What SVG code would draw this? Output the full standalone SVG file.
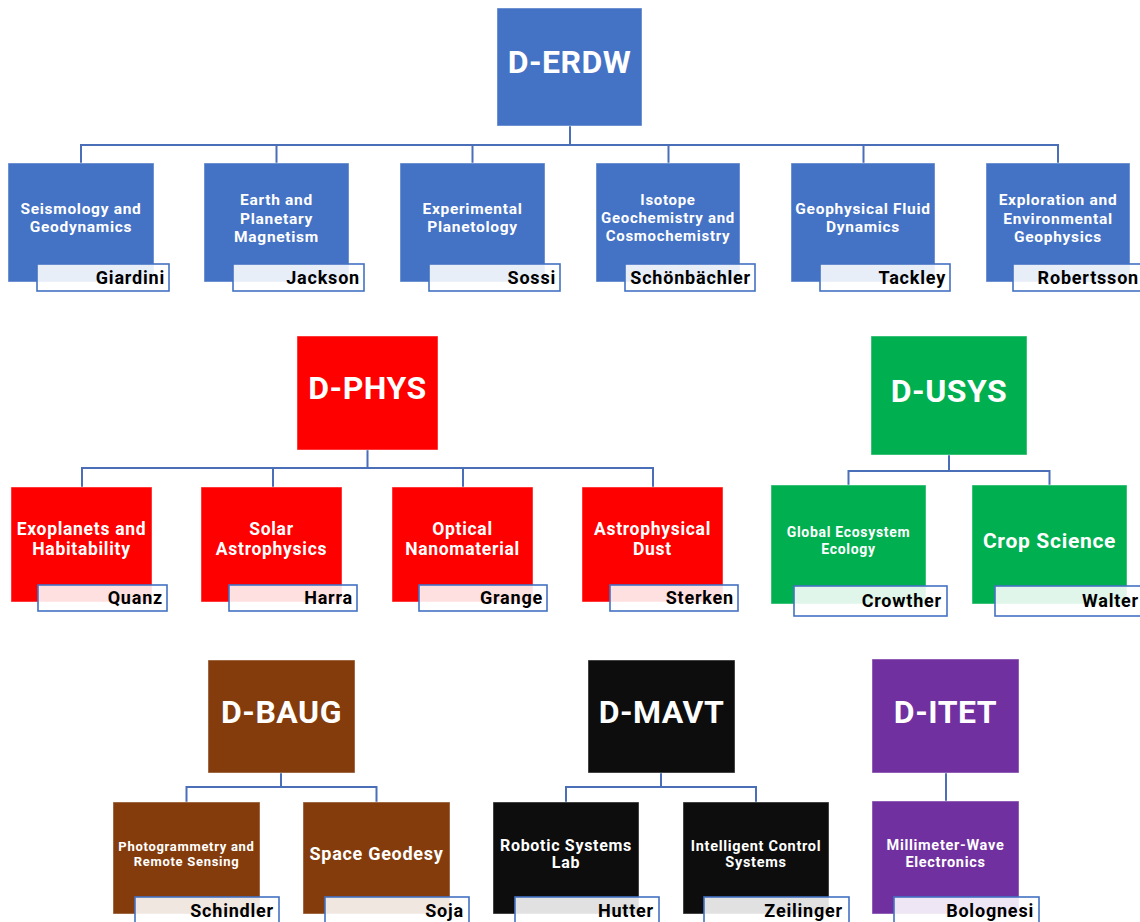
<svg xmlns="http://www.w3.org/2000/svg" width="1140" height="922" viewBox="0 0 1140 922">
<style>
.bg{fill:#ffffff}
.node{stroke:#ffffff;stroke-opacity:0.45;stroke-width:1}
.erdw{fill:#4472C4}
.phys{fill:#FF0000}
.usys{fill:#00B050}
.baug{fill:#843C0C}
.mavt{fill:#0D0D0D}
.itet{fill:#7030A0}
.name{fill:#ffffff;fill-opacity:0.88;stroke:#4472C4;stroke-width:1.6}
.conn{fill:none;stroke:#4A6FB8;stroke-width:2}
text{font-family:Roboto,"DejaVu Sans",sans-serif;font-weight:bold}
.dept{fill:#ffffff;font-size:32px;text-anchor:middle;letter-spacing:0.5px}
.t{fill:#ffffff;text-anchor:middle;letter-spacing:0.7px}
.n{fill:#000000;font-size:18px;text-anchor:end;letter-spacing:0.8px}
</style>
<rect class="bg" x="0" y="0" width="1140" height="922"/>

<g id="connectors">
  <path class="conn" d="M570 126 V145 M81 163 V145 H1058 V163 M276.5 145 V163 M472.5 145 V163 M668.5 145 V163 M863.5 145 V163"/>
  <path class="conn" d="M367.5 450 V468 M82 487 V468 H653 V487 M273 468 V487 M463 468 V487"/>
  <path class="conn" d="M949 455 V471 M848.5 485 V471 H1049.5 V485"/>
  <path class="conn" d="M281 773 V787 M186.5 802 V787 H376.5 V802"/>
  <path class="conn" d="M661 773 V787 M566 802 V787 H756 V802"/>
  <path class="conn" d="M946 773 V801"/>
</g>

<!-- D-ERDW -->
<g id="d-erdw">
  <rect class="node erdw" x="497" y="8" width="145" height="118"/>
  <text class="dept" x="569.5" y="73">D-ERDW</text>
</g>
<g id="seismology">
  <rect class="node erdw" x="8" y="163" width="146" height="119"/>
  <text class="t" font-size="15.5" x="81" y="214">Seismology and</text>
  <text class="t" font-size="15.5" x="81" y="232">Geodynamics</text>
  <rect class="name" x="37" y="264" width="132" height="27"/>
  <text class="n" x="165" y="283.5">Giardini</text>
</g>
<g id="magnetism">
  <rect class="node erdw" x="204" y="163" width="145" height="119"/>
  <text class="t" font-size="15.5" x="276.5" y="205">Earth and</text>
  <text class="t" font-size="15.5" x="276.5" y="223.5">Planetary</text>
  <text class="t" font-size="15.5" x="276.5" y="242">Magnetism</text>
  <rect class="name" x="233" y="264" width="131" height="27"/>
  <text class="n" x="360" y="283.5">Jackson</text>
</g>
<g id="planetology">
  <rect class="node erdw" x="400" y="163" width="145" height="119"/>
  <text class="t" font-size="15.5" x="472.5" y="214">Experimental</text>
  <text class="t" font-size="15.5" x="472.5" y="232">Planetology</text>
  <rect class="name" x="429" y="264" width="131" height="27"/>
  <text class="n" x="556" y="283.5">Sossi</text>
</g>
<g id="isotope">
  <rect class="node erdw" x="596" y="163" width="144" height="119"/>
  <text class="t" font-size="15" x="668" y="205">Isotope</text>
  <text class="t" font-size="15" x="668" y="223">Geochemistry and</text>
  <text class="t" font-size="15" x="668" y="241">Cosmochemistry</text>
  <rect class="name" x="625" y="264" width="130" height="27"/>
  <text class="n" x="751" y="283.5">Schönbächler</text>
</g>
<g id="fluid">
  <rect class="node erdw" x="791" y="163" width="144" height="119"/>
  <text class="t" font-size="15.5" x="863" y="214">Geophysical Fluid</text>
  <text class="t" font-size="15.5" x="863" y="232">Dynamics</text>
  <rect class="name" x="820" y="264" width="130" height="27"/>
  <text class="n" x="946" y="283.5">Tackley</text>
</g>
<g id="exploration">
  <rect class="node erdw" x="986" y="163" width="144" height="119"/>
  <text class="t" font-size="15.5" x="1058" y="205">Exploration and</text>
  <text class="t" font-size="15.5" x="1058" y="223.5">Environmental</text>
  <text class="t" font-size="15.5" x="1058" y="242">Geophysics</text>
  <rect class="name" x="1013" y="264" width="132" height="27"/>
  <text class="n" x="1139" y="283.5">Robertsson</text>
</g>

<!-- D-PHYS -->
<g id="d-phys">
  <rect class="node phys" x="297" y="336" width="141" height="114"/>
  <text class="dept" x="367.5" y="399">D-PHYS</text>
</g>
<g id="exoplanets">
  <rect class="node phys" x="11" y="487" width="141" height="115"/>
  <text class="t" font-size="17.5" x="81.5" y="535">Exoplanets and</text>
  <text class="t" font-size="17.5" x="81.5" y="555">Habitability</text>
  <rect class="name" x="38" y="585" width="129" height="26"/>
  <text class="n" x="163" y="604">Quanz</text>
</g>
<g id="solar">
  <rect class="node phys" x="201" y="487" width="141" height="115"/>
  <text class="t" font-size="17.5" x="271.5" y="535">Solar</text>
  <text class="t" font-size="17.5" x="271.5" y="555">Astrophysics</text>
  <rect class="name" x="229" y="585" width="128" height="26"/>
  <text class="n" x="353" y="604">Harra</text>
</g>
<g id="optical">
  <rect class="node phys" x="392" y="487" width="141" height="115"/>
  <text class="t" font-size="17.5" x="462.5" y="535">Optical</text>
  <text class="t" font-size="17.5" x="462.5" y="555">Nanomaterial</text>
  <rect class="name" x="419" y="585" width="128" height="26"/>
  <text class="n" x="543" y="604">Grange</text>
</g>
<g id="dust">
  <rect class="node phys" x="582" y="487" width="141" height="115"/>
  <text class="t" font-size="17.5" x="652.5" y="535">Astrophysical</text>
  <text class="t" font-size="17.5" x="652.5" y="555">Dust</text>
  <rect class="name" x="610" y="585" width="128" height="26"/>
  <text class="n" x="734" y="604">Sterken</text>
</g>

<!-- D-USYS -->
<g id="d-usys">
  <rect class="node usys" x="871" y="336" width="156" height="119"/>
  <text class="dept" x="949" y="402">D-USYS</text>
</g>
<g id="ecosystem">
  <rect class="node usys" x="771" y="485" width="155" height="119"/>
  <text class="t" font-size="14" x="848.5" y="537">Global Ecosystem</text>
  <text class="t" font-size="14" x="848.5" y="554">Ecology</text>
  <rect class="name" x="794" y="586" width="153" height="30"/>
  <text class="n" x="942" y="607">Crowther</text>
</g>
<g id="crop">
  <rect class="node usys" x="972" y="485" width="155" height="119"/>
  <text class="t" font-size="21" x="1049.5" y="548">Crop Science</text>
  <rect class="name" x="995" y="586" width="153" height="30"/>
  <text class="n" x="1139" y="607">Walter</text>
</g>

<!-- D-BAUG -->
<g id="d-baug">
  <rect class="node baug" x="208" y="660" width="147" height="113"/>
  <text class="dept" x="281.5" y="723">D-BAUG</text>
</g>
<g id="photogrammetry">
  <rect class="node baug" x="113" y="802" width="147" height="112"/>
  <text class="t" font-size="13" x="186.5" y="851">Photogrammetry and</text>
  <text class="t" font-size="13" x="186.5" y="866">Remote Sensing</text>
  <rect class="name" x="135" y="897" width="144" height="30"/>
  <text class="n" x="274" y="917">Schindler</text>
</g>
<g id="geodesy">
  <rect class="node baug" x="303" y="802" width="147" height="112"/>
  <text class="t" font-size="18" x="376.5" y="860">Space Geodesy</text>
  <rect class="name" x="325" y="897" width="144" height="30"/>
  <text class="n" x="464" y="917">Soja</text>
</g>

<!-- D-MAVT -->
<g id="d-mavt">
  <rect class="node mavt" x="588" y="660" width="147" height="113"/>
  <text class="dept" x="661.5" y="723">D-MAVT</text>
</g>
<g id="robotic">
  <rect class="node mavt" x="493" y="802" width="146" height="112"/>
  <text class="t" font-size="16" x="566" y="851">Robotic Systems</text>
  <text class="t" font-size="16" x="566" y="868">Lab</text>
  <rect class="name" x="515" y="897" width="144" height="30"/>
  <text class="n" x="654" y="917">Hutter</text>
</g>
<g id="control">
  <rect class="node mavt" x="683" y="802" width="146" height="112"/>
  <text class="t" font-size="14.5" x="756" y="851">Intelligent Control</text>
  <text class="t" font-size="14.5" x="756" y="867">Systems</text>
  <rect class="name" x="704" y="897" width="145" height="30"/>
  <text class="n" x="843" y="917">Zeilinger</text>
</g>

<!-- D-ITET -->
<g id="d-itet">
  <rect class="node itet" x="872" y="659" width="147" height="114"/>
  <text class="dept" x="945.5" y="723">D-ITET</text>
</g>
<g id="millimeter">
  <rect class="node itet" x="872" y="801" width="147" height="113"/>
  <text class="t" font-size="14.5" x="945.5" y="850">Millimeter-Wave</text>
  <text class="t" font-size="14.5" x="945.5" y="867">Electronics</text>
  <rect class="name" x="894" y="897" width="145" height="30"/>
  <text class="n" x="1034" y="917">Bolognesi</text>
</g>
</svg>
